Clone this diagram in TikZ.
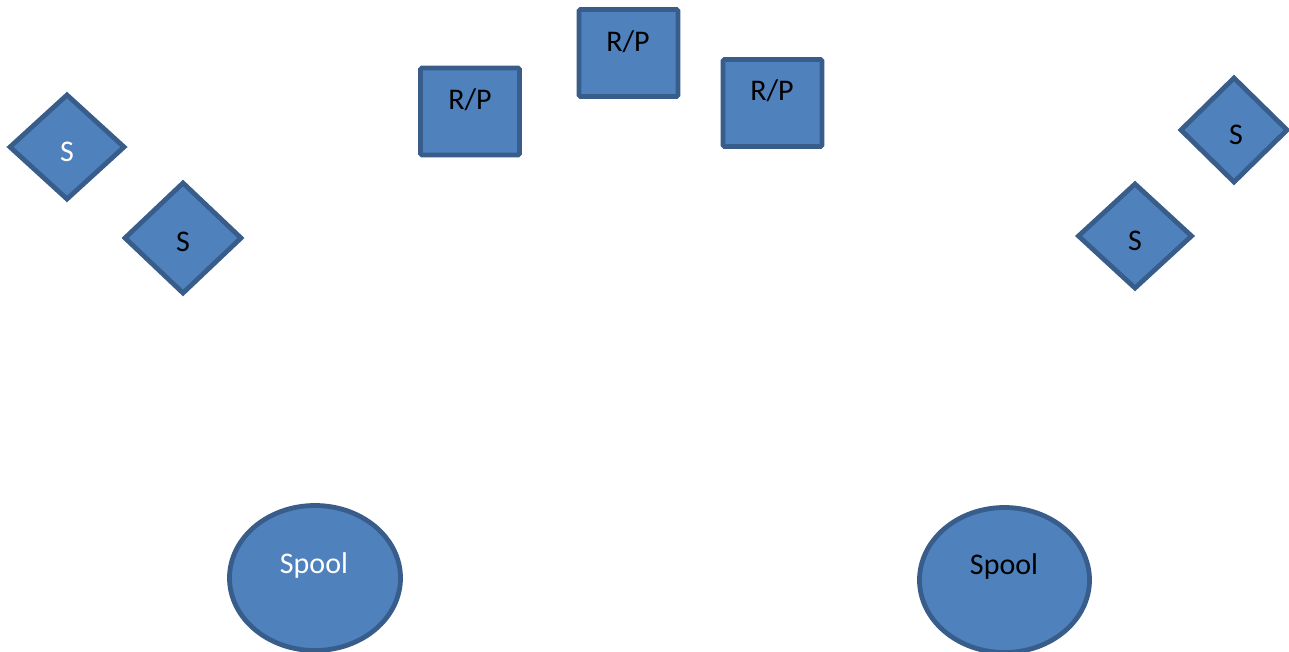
\documentclass[tikz,border=0pt]{standalone}
\usepackage{fontspec}
\setmainfont{Carlito}
\usetikzlibrary{shapes.geometric}
\definecolor{shapefill}{HTML}{4F81BD}
\definecolor{shapeline}{HTML}{385D8A}
\begin{document}
\begin{tikzpicture}[x=1pt,y=-1pt,
  base/.style={fill=shapefill,draw=shapeline,line width=4.8pt,inner sep=0pt},
  sbox/.style={base,diamond,minimum width=116pt,minimum height=106pt},
  rpbox/.style={base,rectangle,rounded corners=1.5pt,minimum width=99pt,minimum height=87pt},
  spoolbox/.style={base,ellipse,minimum width=171pt,minimum height=145pt},
  lbl/.style={font=\fontsize{30}{35}\selectfont,inner sep=0pt},
  lblw/.style={lbl,text=white},
  lblb/.style={lbl,text=black}]
\useasboundingbox (0,0) rectangle (1289,651);
% switches
\node[sbox] (s1) at (67,147) {};
\node[sbox,minimum width=118pt,minimum height=112pt] (s2) at (183,238) {};
\node[sbox,minimum width=108pt] (s3) at (1234,130) {};
\node[sbox,minimum width=115pt] (s4) at (1135,236) {};
\node[lblw] (ts1) at (67,152) {S};
\node[lblb] (ts2) at (183,242) {S};
\node[lblb] (ts3) at (1236,135) {S};
\node[lblb] (ts4) at (1135,241) {S};
% R/P boxes
\node[rpbox] (rp1) at (470,111.5) {};
\node[rpbox] (rp2) at (628.5,53) {};
\node[rpbox] (rp3) at (772.5,103) {};
\node[lblb] (trp1) at (470,100) {R/P};
\node[lblb] (trp2) at (628,42) {R/P};
\node[lblb] (trp3) at (772,91) {R/P};
% spools
\node[spoolbox] (sp1) at (315,578) {};
\node[spoolbox,minimum width=170pt] (sp2) at (1004.5,580) {};
\node[lblw] (tsp1) at (314,565) {Spool};
\node[lblb] (tsp2) at (1004,566) {Spool};
\end{tikzpicture}
\end{document}
